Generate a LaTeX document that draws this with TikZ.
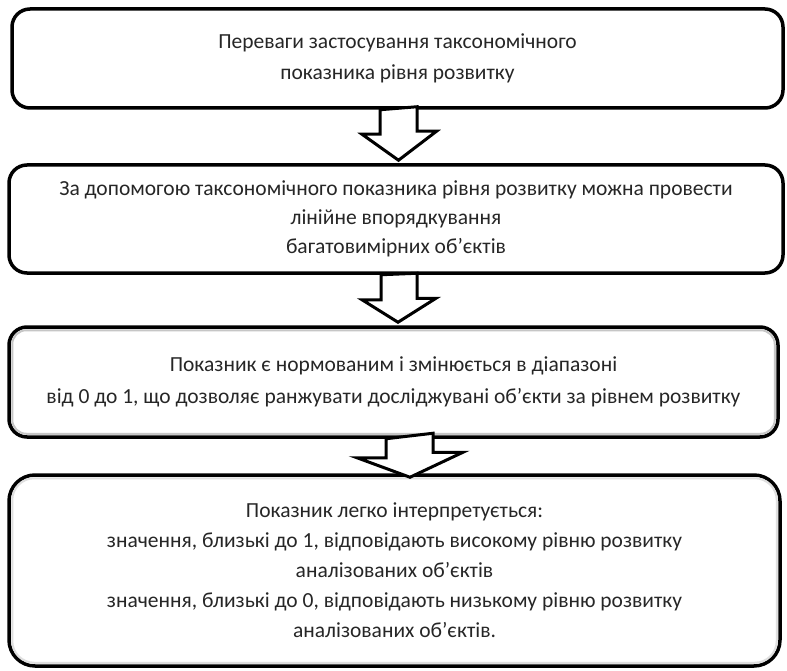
\documentclass[tikz,border=0pt]{standalone}
\usepackage{fontspec}
\setmainfont{Carlito}
\usetikzlibrary{calc}

\begin{document}
\begin{tikzpicture}[x=1pt, y=-1pt,
  box/.style={draw, line width=3.5pt, rounded corners=18pt, fill=white, text=black!85,
    align=center, inner sep=0pt, font=\fontsize{21.5}{26}\selectfont},
  bevel/.style={draw=gray!45, line width=2pt, rounded corners=14pt},
  hollow/.style={draw, line width=3pt, fill=white, line join=miter}]
  \useasboundingbox (0,0) rectangle (787,671);
  % boxes
  \node[box, minimum width=771pt, minimum height=99pt] (adv) at (397.5,58.5)
    {Переваги застосування таксономічного\\[5pt]показника рівня розвитку};
  \node[box, minimum width=774pt, minimum height=108pt] (ord) at (396,219)
    {За допомогою таксономічного показника рівня розвитку можна провести\\[3pt]лінійне впорядкування\\[3pt]багатовимірних об’єктів};
  \node[box, minimum width=769pt, minimum height=110pt] (norm) at (393.5,382)
    {Показник є нормованим і змінюється в діапазоні\\[6pt]від 0 до 1, що дозволяє ранжувати досліджувані об’єкти за рівнем розвитку};
  \node[box, rounded corners=26pt, minimum width=771pt, minimum height=191pt] (intp) at (394.5,570.5)
    {Показник легко інтерпретується:\\[4pt]значення, близькі до 1, відповідають високому рівню розвитку\\[4pt]аналізованих об’єктів\\[4pt]значення, близькі до 0, відповідають низькому рівню розвитку\\[4pt]аналізованих об’єктів.};
  \draw[bevel] ($(norm.south west)+(5,-5)$) rectangle ($(norm.north east)+(-5,5)$);
  \draw[bevel, draw=gray!25, rounded corners=22pt] ($(intp.south west)+(5,-5)$) rectangle ($(intp.north east)+(-5,5)$);
  % arrows
  \draw[hollow] ($(adv.south)+(-17.5,0)$) -- ++(0,24.5) -- ++(-18,0)
    -- ($(ord.north)+(2.5,-3)$) -- ++(38,-29) -- ++(-19.5,0) -- ++(0,-24.5) -- cycle;
  \draw[hollow] ($(ord.south)+(-15,0)$) -- ++(0,25) -- ++(-19,0)
    -- ($(norm.north)+(4.5,-3)$) -- ++(38,-24) -- ++(-19,0) -- ++(0,-25) -- cycle;
  \draw[hollow] ($(norm.south)+(-7.5,0)$) -- ++(0,19) -- ++(-29,0)
    -- ($(intp.north)+(15.5,4)$) -- ++(53,-25) -- ++(-30,0) -- ++(0,-19) -- cycle;
\end{tikzpicture}
\end{document}
